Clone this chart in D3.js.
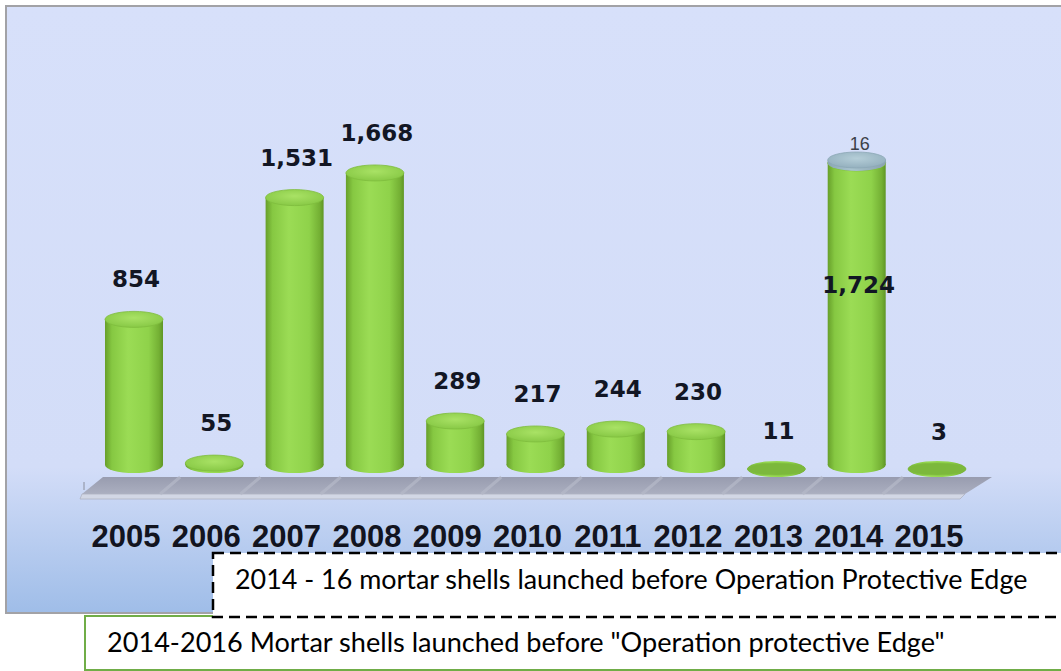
<!DOCTYPE html>
<html lang="en">
<head>
<meta charset="UTF-8">
<title>Mortar shells 2005-2015</title>
<script src="https://d3js.org/d3.v7.min.js"></script>
<style>
html,body{margin:0;padding:0;background:#fff}
svg{display:block}
.val{font-family:"DejaVu Sans",Verdana,sans-serif;font-weight:bold;font-size:23px;fill:#121624}
.year{font-family:"Liberation Sans",Arial,sans-serif;font-weight:bold;font-size:31px;fill:#121420}
.note{font-family:Lato,"Open Sans",sans-serif;fill:#000}
</style>
</head>
<body>
<div id="chart"></div>
<script>
// data
var years = ['2005','2006','2007','2008','2009','2010','2011','2012','2013','2014','2015'];
var shells = [854, 55, 1531, 1668, 289, 217, 244, 230, 11, 1724, 3];
var beforeEdge = [0, 0, 0, 0, 0, 0, 0, 0, 0, 16, 0];   // mortar shells before Operation Protective Edge
var noteDashed = '2014 - 16 mortar shells launched before Operation Protective Edge';
var noteGreen = '2014-2016 Mortar shells launched before "Operation protective Edge"';

var W = 1061, H = 671;
var svg = d3.select('#chart').append('svg').attr('width', W).attr('height', H);
var defs = svg.append('defs');

// gradients
var bg = defs.append('linearGradient').attr('id', 'bg').attr('x1', 0).attr('y1', 0).attr('x2', 0).attr('y2', 1);
bg.append('stop').attr('offset', '0%').attr('stop-color', '#d7e0fa');
bg.append('stop').attr('offset', '76%').attr('stop-color', '#d3ddf8');
bg.append('stop').attr('offset', '100%').attr('stop-color', '#9fbde8');

function sideGrad(id, stops) {
  var g = defs.append('linearGradient').attr('id', id).attr('x1', 0).attr('y1', 0).attr('x2', 1).attr('y2', 0);
  stops.forEach(function(s) { g.append('stop').attr('offset', s[0]).attr('stop-color', s[1]); });
}
sideGrad('body', [['0%', '#679f2a'], ['12%', '#86c842'], ['40%', '#9bdc55'], ['75%', '#8fd24a'], ['93%', '#74b034'], ['100%', '#5f9625']]);
sideGrad('bodyGrey', [['0%', '#8aa6b4'], ['40%', '#a9c4cf'], ['100%', '#8aa2b0']]);
var cap = defs.append('radialGradient').attr('id', 'cap').attr('cx', '50%').attr('cy', '40%').attr('r', '60%');
cap.append('stop').attr('offset', '0%').attr('stop-color', '#a9e265');
cap.append('stop').attr('offset', '100%').attr('stop-color', '#88c946');
var capG = defs.append('radialGradient').attr('id', 'capGrey').attr('cx', '50%').attr('cy', '40%').attr('r', '60%');
capG.append('stop').attr('offset', '0%').attr('stop-color', '#b5ced8');
capG.append('stop').attr('offset', '100%').attr('stop-color', '#94b0be');
var fl = defs.append('linearGradient').attr('id', 'floor').attr('x1', 0).attr('y1', 0).attr('x2', 0).attr('y2', 1);
fl.append('stop').attr('offset', '0%').attr('stop-color', '#989caf');
fl.append('stop').attr('offset', '100%').attr('stop-color', '#abafc0');

// panel
svg.append('rect').attr('x', 6).attr('y', 6).attr('width', W + 10).attr('height', 607)
  .attr('fill', 'url(#bg)').attr('stroke', '#a2a2a6').attr('stroke-width', 2);

// scales
var x = d3.scalePoint().domain(years).range([134, 937]);
var total = d3.max(shells, function(d, i) { return d + beforeEdge[i]; });
var y = d3.scaleLinear().domain([0, total]).range([473, 160]);
var rx = 29, ry = 8, BASE = 465, FLAT = 469;

// floor
var step = x.step();
var backL = x(years[0]) - 31, backR = x(years[years.length - 1]) + 55;
var frontL = x(years[0]) - 52, frontR = x(years[years.length - 1]) + 28;
var floorG = svg.append('g');
floorG.append('path')
  .attr('d', 'M' + backL + ',477 L' + backR + ',477 L' + frontR + ',494 L' + frontL + ',494 Z')
  .attr('fill', 'url(#floor)');
floorG.append('path')
  .attr('d', 'M' + frontL + ',494 L' + frontR + ',494 L' + (frontR - 5) + ',499 L' + (frontL - 2) + ',499 Z')
  .attr('fill', '#d2d7e5').attr('stroke', '#aeb2c2').attr('stroke-width', 0.8);
years.slice(1).forEach(function(yr) {
  var bx = x(yr) - step / 2;
  floorG.append('line').attr('x1', bx + 6).attr('y1', 477).attr('x2', bx - 14).attr('y2', 494)
    .attr('stroke', '#b6bac9').attr('stroke-width', 3).attr('opacity', 0.7);
});
floorG.append('line').attr('x1', frontL + 2).attr('y1', 482).attr('x2', frontL + 2).attr('y2', 490)
  .attr('stroke', '#8a8e9c').attr('stroke-width', 1);

// cylinders
var bars = svg.append('g');
years.forEach(function(yr, i) {
  var cx = x(yr);
  var segs = [{ from: 0, to: shells[i], body: 'url(#body)', top: 'url(#cap)' }];
  if (beforeEdge[i] > 0) segs.push({ from: shells[i], to: shells[i] + beforeEdge[i], body: 'url(#bodyGrey)', top: 'url(#capGrey)' });
  segs.forEach(function(s, k) {
    var topC = Math.min(y(s.to), FLAT);
    var botC = k === 0 ? Math.max(BASE, topC) : y(s.from);
    var flat = botC - topC < 1;
    bars.append('ellipse').attr('cx', cx).attr('cy', botC).attr('rx', rx).attr('ry', ry).attr('fill', s.body);
    bars.append('rect').attr('x', cx - rx).attr('y', topC).attr('width', rx * 2).attr('height', botC - topC).attr('fill', s.body);
    bars.append('ellipse').attr('cx', cx).attr('cy', topC).attr('rx', rx).attr('ry', flat ? ry - 2 : ry)
      .attr('fill', flat ? '#7cb83c' : s.top)
      .attr('stroke', k === 0 ? '#7fbd3e' : '#8da8b6').attr('stroke-width', 0.8);
  });
});

// value labels
var labels = svg.append('g');
years.forEach(function(yr, i) {
  var v = shells[i];
  var inside = beforeEdge[i] > 0;
  labels.append('text').attr('class', 'val')
    .attr('x', x(yr) + 2)
    .attr('y', inside ? y(v * 0.6) + 6 : y(v) - 32)
    .attr('text-anchor', 'middle')
    .text(d3.format(',')(v));
  if (inside) {
    labels.append('text')
      .attr('x', x(yr) + 3).attr('y', y(v + beforeEdge[i]) - ry - 2)
      .attr('text-anchor', 'middle')
      .attr('font-family', 'Liberation Sans, Arial, sans-serif').attr('font-size', 18).attr('fill', '#3c3f48')
      .text(beforeEdge[i]);
  }
});

// year axis labels
svg.append('g').selectAll('text').data(years).join('text')
  .attr('class', 'year')
  .attr('x', function(d) { return x(d) - 8; })
  .attr('y', 547)
  .attr('text-anchor', 'middle')
  .text(function(d) { return d; });

// note boxes
function fitText(sel, width) {
  var fs = 25;
  sel.attr('font-size', fs);
  var w = sel.node().getComputedTextLength();
  sel.attr('font-size', fs * width / w);
}

svg.append('rect').attr('x', 85).attr('y', 616).attr('width', W).attr('height', 54)
  .attr('fill', '#fff').attr('stroke', '#70ad47').attr('stroke-width', 2);
fitText(svg.append('text').attr('class', 'note').attr('x', 107).attr('y', 652).text(noteGreen), 838);

svg.append('rect').attr('x', 213).attr('y', 553).attr('width', W).attr('height', 64)
  .attr('fill', '#fff').attr('stroke', '#000').attr('stroke-width', 2.5).attr('stroke-dasharray', '11,6');
fitText(svg.append('text').attr('class', 'note').attr('x', 235).attr('y', 589).text(noteDashed), 793);
</script>
</body>
</html>
